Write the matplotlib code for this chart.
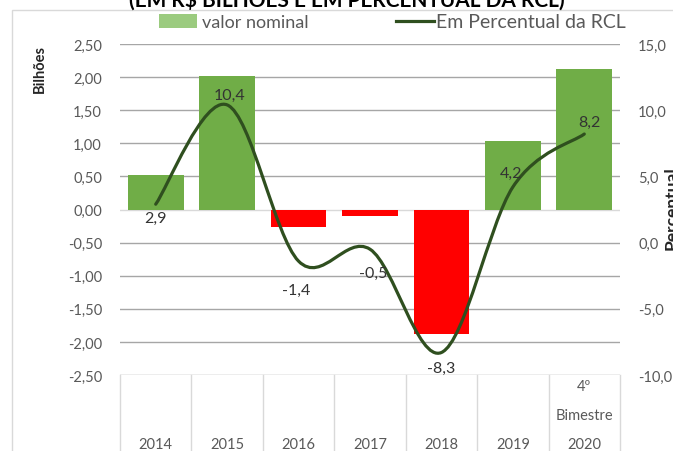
import matplotlib
matplotlib.use("Agg")
import matplotlib.pyplot as plt
import matplotlib.transforms as mtransforms
from matplotlib.path import Path
from matplotlib.patches import PathPatch, Patch, Rectangle
from matplotlib.lines import Line2D

plt.rcParams['font.family'] = ['Lato', 'DejaVu Sans']

# data
categories = ["2014", "2015", "2016", "2017", "2018", "2019", "4º\nBimestre\n2020"]
nominal = [0.52, 2.02, -0.27, -0.10, -1.88, 1.04, 2.12]      # R$ bilhões
percent_rcl = [2.9, 10.4, -1.4, -0.5, -8.3, 4.2, 8.2]          # % da RCL
left_ticks = [2.5, 2.0, 1.5, 1.0, 0.5, 0.0, -0.5, -1.0, -1.5, -2.0, -2.5]
right_ticks = [15, 10, 5, 0, -5, -10]

# label offsets (points) for the percent labels
label_offsets = [(0, -10), (2, 7), (-2, -21), (2, -17), (0, -11), (-1, 10), (4, 9)]

GREEN = "#70AD47"
RED = "#FF0000"
LINE = "#2F4F1F"
GRID = "#A6A6A6"
TXT = "#595959"

W, H = 673, 452
fig = plt.figure(figsize=(W / 100, H / 100), dpi=100)
ax = fig.add_axes([120 / W, 1 - 376 / H, 500 / W, 331 / H])

x = list(range(len(categories)))
colors = [GREEN if v >= 0 else RED for v in nominal]
ax.bar(x, nominal, width=0.78, color=colors, zorder=2)

ax.set_xlim(-0.5, len(categories) - 0.5)
ax.set_ylim(-2.5, 2.5)
ax.set_yticks(left_ticks)
ax.set_yticklabels([f"{t:.2f}".replace('.', ',') for t in left_ticks], color=TXT, fontsize=10.5)
ax.tick_params(axis='y', length=0, pad=13)
ax.set_xticks([])
for t in left_ticks:
    if t != 0:
        ax.axhline(t, color=GRID, lw=1, zorder=1)
ax.axhline(0, color="#D9D9D9", lw=1, zorder=1)
for s in ax.spines.values():
    s.set_visible(False)

# secondary axis
ax2 = ax.twinx()
ax2.set_ylim(-10, 15)
ax2.set_yticks(right_ticks)
ax2.set_yticklabels([f"{t:.1f}".replace('.', ',') for t in right_ticks], color=TXT, fontsize=10.5)
ax2.tick_params(axis='y', length=0, pad=13)
for s in ax2.spines.values():
    s.set_visible(False)

# smoothed line (Catmull-Rom as cubic Bezier segments)
pts = list(zip(x, percent_rcl))
verts = [pts[0]]
codes = [Path.MOVETO]
n = len(pts)
for i in range(n - 1):
    p0 = pts[i - 1] if i > 0 else pts[i]
    p1 = pts[i]
    p2 = pts[i + 1]
    p3 = pts[i + 2] if i + 2 < n else pts[i + 1]
    c1 = (p1[0] + (p2[0] - p0[0]) / 6, p1[1] + (p2[1] - p0[1]) / 6)
    c2 = (p2[0] - (p3[0] - p1[0]) / 6, p2[1] - (p3[1] - p1[1]) / 6)
    verts += [c1, c2, p2]
    codes += [Path.CURVE4] * 3
ax2.add_patch(PathPatch(Path(verts, codes), facecolor='none', edgecolor=LINE, lw=2.3,
                        capstyle='round', zorder=3))

for xi, v, off in zip(x, percent_rcl, label_offsets):
    ax2.annotate(f"{v:.1f}".replace('.', ','), (xi, v), xytext=off, textcoords='offset points',
                 ha='center', va='center', fontsize=11.5, color="#333333", zorder=4)

# category table below the plot
blend = mtransforms.blended_transform_factory(ax.transData, fig.transFigure)
y0 = 1 - 376 / H
for b in [i - 0.5 for i in range(len(categories) + 1)]:
    ax.plot([b, b], [0, y0], transform=blend, color="#D9D9D9", lw=1, clip_on=False)
for xi, lab in zip(x, categories):
    lines = lab.split("\n")
    for k, ln in enumerate(reversed(lines)):
        yy = (H - 445 + 29 * k) / H
        ax.text(xi, yy, ln, transform=blend, ha='center', va='center', fontsize=10.5, color=TXT)

# axis titles
fig.text(40 / W, 1 - 69 / H, "Bilhões", rotation=90, ha='center', va='center',
         fontsize=10.5, fontweight='bold', color="#262626")
fig.text(672 / W, 1 - 208 / H, "Percentual", rotation=90, ha='center', va='center',
         fontsize=12.5, fontweight='bold', color="#262626")

# title (cut at top)
fig.text(347 / W, 1 - 7 / H, "(EM R$ BILHÕES E EM PERCENTUAL DA RCL)", ha='center',
         va='baseline', fontsize=15, fontweight='bold', color="#000000")

# chart border
fig.add_artist(Rectangle((12 / W, -0.1), 1.1, 1 - 11 / H + 0.1, transform=fig.transFigure,
                         fill=False, edgecolor="#D9D9D9", lw=1))

leg1 = fig.legend([Patch(facecolor="#9BCB7F", edgecolor='none')], ["valor nominal"],
                  frameon=False, loc='center left', bbox_to_anchor=(143 / W, 1 - 23 / H),
                  fontsize=13, handlelength=2.1, handleheight=0.8, handletextpad=0.25,
                  labelcolor=TXT)
leg2 = fig.legend([Line2D([0], [0], color=LINE, lw=2.3)], ["Em Percentual da RCL"],
                  frameon=False, loc='center left', bbox_to_anchor=(378 / W, 1 - 23 / H),
                  fontsize=14, handlelength=2.0, handletextpad=0.1, labelcolor=TXT)

fig.savefig("out.png", dpi=100)
